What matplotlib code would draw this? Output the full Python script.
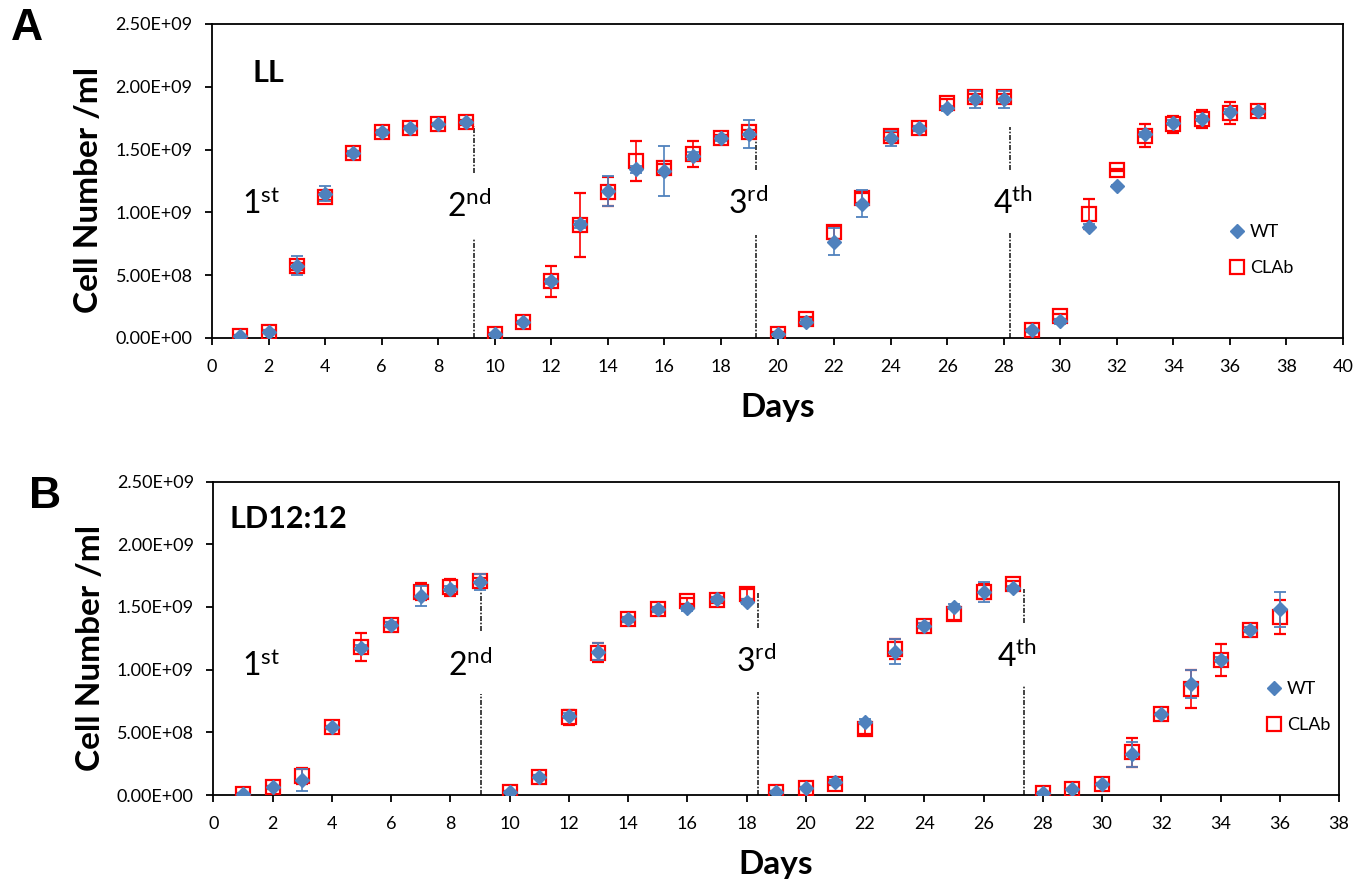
import matplotlib
matplotlib.use("Agg")
import matplotlib.pyplot as plt
from matplotlib.lines import Line2D
from matplotlib.ticker import FuncFormatter, MultipleLocator
import numpy as np

plt.rcParams['font.family'] = ['Lato', 'DejaVu Sans']
plt.rcParams['mathtext.default'] = 'regular'

# ---------------- data (cell number, x1e9 per ml) ----------------
days_A = list(range(1, 38))
wt_A = [0.016, 0.05, 0.576, 1.15, 1.47, 1.64, 1.675, 1.70, 1.717,
        0.03, 0.125, 0.45, 0.905, 1.17, 1.343, 1.33, 1.45, 1.59, 1.624,
        0.03, 0.13, 0.767, 1.07, 1.59, 1.67, 1.83, 1.90, 1.90,
        0.06, 0.135, 0.886, 1.21, 1.624, 1.714, 1.744, 1.80, 1.807]
wt_A_err = [0.01, 0.01, 0.075, 0.06, 0.02, 0.02, 0.01, 0.01, 0.01,
            0.005, 0.01, 0.02, 0.03, 0.12, 0.03, 0.20, 0.03, 0.02, 0.115,
            0.005, 0.02, 0.105, 0.11, 0.06, 0.02, 0.02, 0.066, 0.07,
            0.01, 0.02, 0.02, 0.01, 0.02, 0.02, 0.02, 0.02, 0.01]
cl_A = [0.016, 0.05, 0.57, 1.125, 1.47, 1.64, 1.675, 1.70, 1.717,
        0.03, 0.125, 0.45, 0.90, 1.165, 1.41, 1.356, 1.467, 1.595, 1.64,
        0.035, 0.149, 0.84, 1.115, 1.61, 1.67, 1.87, 1.92, 1.92,
        0.06, 0.175, 0.987, 1.338, 1.61, 1.70, 1.744, 1.79, 1.807]
cl_A_err = [0.01, 0.01, 0.03, 0.03, 0.02, 0.02, 0.01, 0.01, 0.02,
            0.01, 0.01, 0.12, 0.257, 0.115, 0.16, 0.03, 0.105, 0.02, 0.02,
            0.01, 0.02, 0.054, 0.042, 0.03, 0.02, 0.03, 0.02, 0.02,
            0.01, 0.02, 0.12, 0.01, 0.09, 0.07, 0.075, 0.088, 0.02]

days_B = list(range(1, 37))
wt_B = [0.008, 0.06, 0.12, 0.54, 1.175, 1.356, 1.587, 1.643, 1.70,
        0.027, 0.146, 0.633, 1.143, 1.403, 1.48, 1.49, 1.56, 1.54,
        0.027, 0.058, 0.106, 0.585, 1.143, 1.348, 1.50, 1.62, 1.648,
        0.018, 0.045, 0.088, 0.324, 0.646, 0.885, 1.077, 1.316, 1.48]
wt_B_err = [0.005, 0.01, 0.09, 0.01, 0.02, 0.02, 0.08, 0.02, 0.065,
            0.005, 0.01, 0.02, 0.07, 0.02, 0.02, 0.02, 0.02, 0.02,
            0.005, 0.005, 0.01, 0.02, 0.10, 0.02, 0.02, 0.08, 0.02,
            0.005, 0.005, 0.01, 0.10, 0.01, 0.113, 0.02, 0.02, 0.14]
cl_B = [0.008, 0.06, 0.154, 0.54, 1.18, 1.356, 1.62, 1.656, 1.71,
        0.027, 0.146, 0.62, 1.135, 1.403, 1.48, 1.547, 1.555, 1.60,
        0.027, 0.058, 0.09, 0.526, 1.162, 1.348, 1.443, 1.62, 1.683,
        0.018, 0.045, 0.088, 0.34, 0.646, 0.845, 1.077, 1.316, 1.42]
cl_B_err = [0.005, 0.01, 0.064, 0.01, 0.11, 0.02, 0.067, 0.07, 0.02,
            0.005, 0.01, 0.06, 0.075, 0.02, 0.02, 0.02, 0.02, 0.04,
            0.005, 0.005, 0.01, 0.04, 0.08, 0.02, 0.05, 0.06, 0.027,
            0.005, 0.005, 0.01, 0.117, 0.01, 0.15, 0.13, 0.02, 0.135]

series_names = ['WT', 'CLAb']
cycle_names = [('1', 'st'), ('2', 'nd'), ('3', 'rd'), ('4', 'th')]

# subculture transfer markers (day position, lower segment, upper segment in 1e9)
breaks_A = [(9.27, 0.79, 1.31, 1.69), (19.24, 0.82, 1.34, 1.69), (28.22, 0.84, 1.34, 1.68)]
breaks_B = [(9.02, 0.805, 1.31, 1.75), (18.40, 0.82, 1.33, 1.62), (27.38, 0.877, 1.374, 1.64)]
cycle_pos_A = [(1.05, 0.987), (8.30, 0.966), (18.26, 0.987), (27.63, 0.987)]
cycle_pos_B = [(0.96, 0.951), (7.91, 0.951), (17.63, 0.978), (26.44, 1.02)]

BLUE = '#4F81BD'
RED = '#FF0000'
E9 = 1e9

fig = plt.figure(figsize=(13.68, 8.84), dpi=100)
axA = fig.add_axes([212/1368, 1-338/884, 1131/1368, 314/884])
axB = fig.add_axes([213.3/1368, 1-795/884, 1125.7/1368, 313.5/884])


def draw_panel(ax, days, wt, wt_err, cl, cl_err, xmax, breaks, cyc_pos, title, title_pos, leg_anchor):
    ax.errorbar(days, np.array(cl)*E9, yerr=np.array(cl_err)*E9, fmt='s', ms=10.5,
                mfc='none', mec=RED, mew=1.6, ecolor=RED, elinewidth=1.2,
                capsize=4, capthick=1.3, zorder=3)
    ax.errorbar(days, np.array(wt)*E9, yerr=np.array(wt_err)*E9, fmt='D', ms=7.5,
                mfc=BLUE, mec=BLUE, ecolor=BLUE, elinewidth=1.2,
                capsize=4, capthick=1.3, zorder=4)
    for x, lo_top, hi_bot, hi_top in breaks:
        ax.plot([x, x], [0, lo_top*E9], color='#222222', lw=1.2,
                ls=(0, (3, 1, 1, 1)), zorder=2)
        ax.plot([x, x], [hi_bot*E9, hi_top*E9], color='#222222', lw=1.2,
                ls=(0, (3, 1, 1, 1)), zorder=2)
    for (num, suf), (x, y) in zip(cycle_names, cyc_pos):
        ax.text(x, y*E9, num + r'$^{' + suf + '}$', fontsize=23,
                ha='left', va='baseline')
    ax.set_xlim(0, xmax)
    ax.set_ylim(0, 2.5e9)
    ax.xaxis.set_major_locator(MultipleLocator(2))
    ax.yaxis.set_major_locator(MultipleLocator(0.5e9))
    ax.yaxis.set_major_formatter(FuncFormatter(lambda v, p: f"{v:.2E}"))
    ax.tick_params(axis='both', direction='out', length=5, width=1.3,
                   labelsize=13, top=False, right=False)
    ax.tick_params(axis='x', pad=10)
    ax.tick_params(axis='y', pad=9)
    for s in ax.spines.values():
        s.set_linewidth(1.3)
        s.set_color('black')
    ax.set_xlabel('Days', fontsize=24, fontweight='bold')
    ax.set_ylabel('Cell Number /ml', fontsize=24, fontweight='bold')
    ax.yaxis.set_label_coords(-0.096, 0.47)
    ax.xaxis.set_label_coords(0.5, -0.175)
    ax.text(title_pos[0], title_pos[1], title, transform=ax.transAxes,
            fontsize=22, fontweight='bold', ha='left', va='baseline')
    handles = [Line2D([], [], marker='D', ls='none', ms=7.5, mfc=BLUE, mec=BLUE),
               Line2D([], [], marker='s', ls='none', ms=10.5, mfc='none', mec=RED, mew=1.6)]
    ax.legend(handles, series_names, loc='center left', bbox_to_anchor=leg_anchor,
              frameon=False, fontsize=13, handlelength=0.8, handletextpad=0.3,
              labelspacing=1.1, borderpad=0, borderaxespad=0)


draw_panel(axA, days_A, wt_A, wt_A_err, cl_A, cl_A_err, 40, breaks_A, cycle_pos_A,
           'LL', (0.036, 0.815), (0.900, 0.2806))
draw_panel(axB, days_B, wt_B, wt_B_err, cl_B, cl_B_err, 38, breaks_B, cycle_pos_B,
           'LD12:12', (0.0148, 0.852), (0.936, 0.281))

fig.text(27/1368, 1-28/884, 'A', fontsize=32, fontweight='bold',
         family='Liberation Sans', ha='center', va='center')
fig.text(45/1368, 1-497/884, 'B', fontsize=32, fontweight='bold',
         family='Liberation Sans', ha='center', va='center')

fig.savefig('out.png', dpi=100)
